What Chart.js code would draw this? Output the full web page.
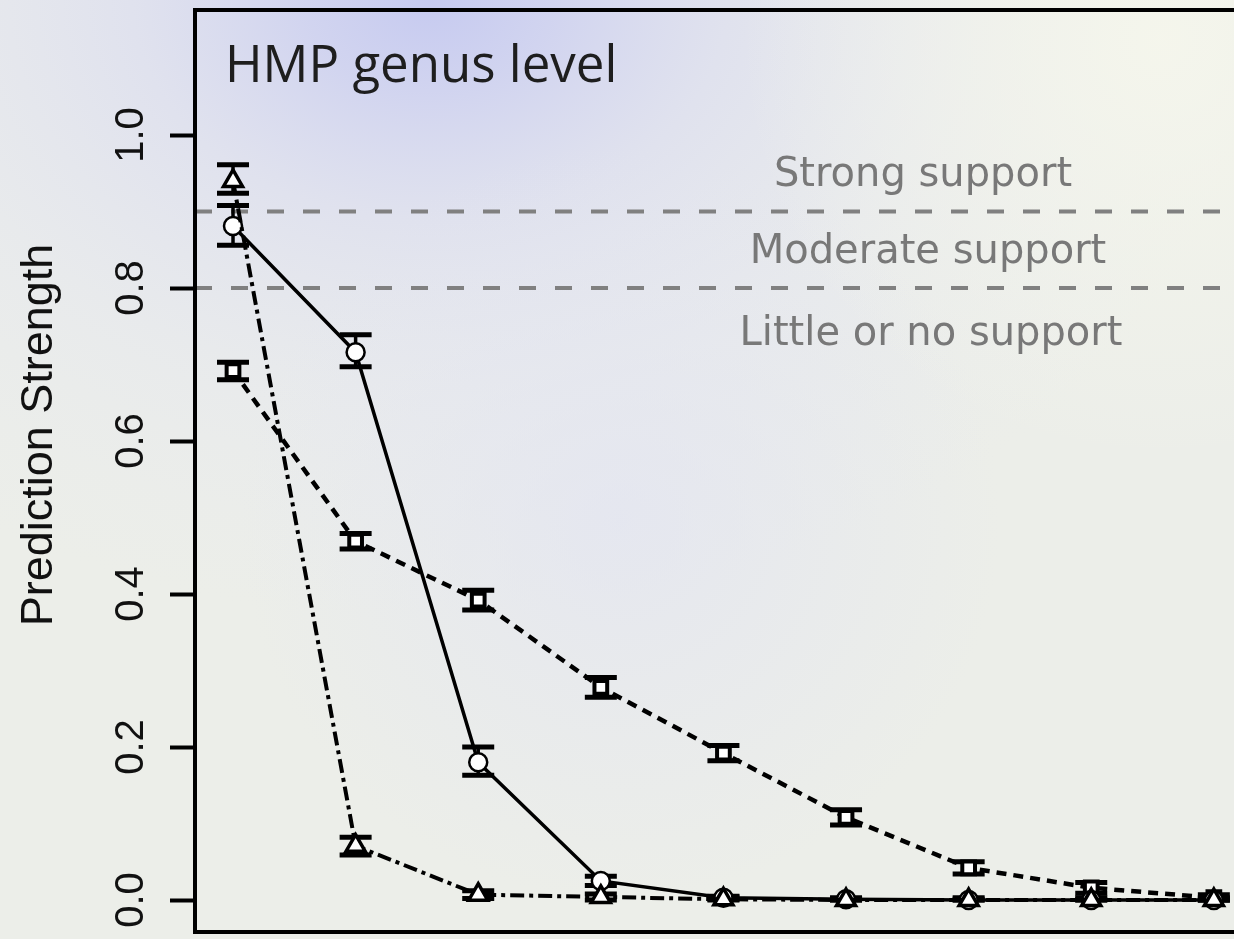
<!DOCTYPE html>
<html>
<head>
<meta charset="utf-8">
<script src="https://cdn.jsdelivr.net/npm/chart.js@4.4.0/dist/chart.umd.min.js"></script>
<style>
  html, body { margin: 0; padding: 0; overflow: hidden; background: #eceee9; }
  #wrap { width: 1250px; height: 939px; }
  canvas { display: block; }
</style>
</head>
<body>
<div id="wrap"><canvas id="chart" width="1250" height="939" style="width:1250px;height:939px"></canvas></div>
<script>
// ---- data ----
const clusterNumbers = [2, 3, 4, 5, 6, 7, 8, 9, 10];

const solidValues = [0.881, 0.716, 0.180, 0.025, 0.003, 0.001, 0.000, 0.000, 0.000];
const solidLower  = [0.856, 0.697, 0.163, 0.019, 0.001, 0.000, 0.000, 0.000, 0.000];
const solidUpper  = [0.908, 0.739, 0.200, 0.031, 0.005, 0.002, 0.001, 0.001, 0.001];

const dashedValues = [0.692, 0.469, 0.392, 0.278, 0.192, 0.108, 0.042, 0.016, 0.003];
const dashedLower  = [0.680, 0.459, 0.379, 0.265, 0.182, 0.098, 0.034, 0.009, 0.000];
const dashedUpper  = [0.703, 0.479, 0.405, 0.291, 0.202, 0.118, 0.050, 0.023, 0.007];

const dotdashValues = [0.940, 0.071, 0.007, 0.004, 0.001, 0.000, 0.000, 0.000, 0.000];
const dotdashLower  = [0.924, 0.059, 0.002, 0.000, 0.000, 0.000, 0.000, 0.000, 0.000];
const dotdashUpper  = [0.961, 0.082, 0.012, 0.008, 0.004, 0.003, 0.003, 0.003, 0.003];

const yTickValues = [0, 0.2, 0.4, 0.6, 0.8, 1.0];
const yTickLabels = ['0.0', '0.2', '0.4', '0.6', '0.8', '1.0'];
const supportThresholds = [0.9, 0.8];
const supportLabels = ['Strong support', 'Moderate support', 'Little or no support'];
const chartTitle = 'HMP genus level';
const yAxisTitle = 'Prediction Strength';

// ---- helpers ----
const toPoints = (vals) => clusterNumbers.map((k, i) => ({ x: k, y: vals[i] }));

const decorPlugin = {
  id: 'decor',
  beforeDraw(chart) {
    const { ctx, width, height } = chart;
    ctx.save();
    ctx.fillStyle = '#eceee9';
    ctx.fillRect(0, 0, width, height);
    // bluish glow near the top centre-left (elliptical)
    ctx.save();
    ctx.translate(430, 0);
    ctx.scale(1.35, 1);
    const g = ctx.createRadialGradient(0, 0, 0, 0, 0, 620);
    g.addColorStop(0, 'rgba(198,202,240,1)');
    g.addColorStop(0.15, 'rgba(207,210,240,0.92)');
    g.addColorStop(0.35, 'rgba(219,221,240,0.72)');
    g.addColorStop(0.65, 'rgba(228,230,240,0.42)');
    g.addColorStop(1, 'rgba(232,234,240,0)');
    ctx.fillStyle = g;
    ctx.fillRect(-600, -10, 1400, 1000);
    ctx.restore();
    // faint lavender haze in the middle
    const g3 = ctx.createRadialGradient(620, 520, 0, 620, 520, 380);
    g3.addColorStop(0, 'rgba(226,228,242,0.7)');
    g3.addColorStop(1, 'rgba(226,228,242,0)');
    ctx.fillStyle = g3;
    ctx.fillRect(0, 0, width, height);
    // warm white at top right
    const g2 = ctx.createRadialGradient(1160, 40, 0, 1160, 40, 420);
    g2.addColorStop(0, 'rgba(245,246,236,0.95)');
    g2.addColorStop(1, 'rgba(245,246,236,0)');
    ctx.fillStyle = g2;
    ctx.fillRect(0, 0, width, height);
    ctx.restore();
  },
  beforeDatasetsDraw(chart) {
    const { ctx, chartArea, scales: { x, y } } = chart;
    ctx.save();
    // threshold lines
    ctx.strokeStyle = '#808080';
    ctx.lineWidth = 4;
    ctx.setLineDash([17, 19]);
    supportThresholds.forEach(v => {
      const py = y.getPixelForValue(v);
      ctx.beginPath();
      ctx.moveTo(chartArea.left, py);
      ctx.lineTo(chartArea.right, py);
      ctx.stroke();
    });
    ctx.setLineDash([]);
    // error bars
    ctx.strokeStyle = '#000';
    chart.data.datasets.forEach(ds => {
      ds.data.forEach((p, i) => {
        const px = x.getPixelForValue(p.x);
        const yl = y.getPixelForValue(ds.errLow[i]);
        const yh = y.getPixelForValue(ds.errHigh[i]);
        ctx.lineWidth = 3.5;
        ctx.beginPath();
        ctx.moveTo(px, yl); ctx.lineTo(px, yh);
        ctx.stroke();
        ctx.lineWidth = 5;
        ctx.beginPath();
        ctx.moveTo(px - 16, yl); ctx.lineTo(px + 16, yl);
        ctx.moveTo(px - 16, yh); ctx.lineTo(px + 16, yh);
        ctx.stroke();
      });
    });
    ctx.restore();
  },
  afterDraw(chart) {
    const { ctx, chartArea, scales: { y } } = chart;
    ctx.save();
    // frame
    ctx.strokeStyle = '#000';
    ctx.lineWidth = 4;
    ctx.strokeRect(chartArea.left, chartArea.top, chartArea.right - chartArea.left, chartArea.bottom - chartArea.top);
    // title
    ctx.fillStyle = '#1e1e1e';
    ctx.font = '51px "Open Sans"';
    ctx.textAlign = 'left';
    ctx.textBaseline = 'alphabetic';
    ctx.fillText(chartTitle, 225, 82);
    // support labels
    ctx.fillStyle = '#787878';
    ctx.font = '40px "DejaVu Sans"';
    ctx.textAlign = 'center';
    const labelPos = [[923, 186], [928, 263], [931, 345]];
    supportLabels.forEach((t, i) => ctx.fillText(t, labelPos[i][0], labelPos[i][1]));
    // y tick labels (rotated)
    ctx.fillStyle = '#111';
    ctx.font = '40px "Liberation Sans"';
    yTickValues.forEach((v, i) => {
      const py = y.getPixelForValue(v);
      ctx.save();
      ctx.translate(143, py);
      ctx.rotate(-Math.PI / 2);
      ctx.textAlign = 'center';
      ctx.fillText(yTickLabels[i], 0, 0);
      ctx.restore();
    });
    // y axis title
    ctx.font = '45px "Liberation Sans"';
    ctx.save();
    ctx.translate(52, 435);
    ctx.rotate(-Math.PI / 2);
    ctx.textAlign = 'center';
    ctx.fillText(yAxisTitle, 0, 0);
    ctx.restore();
    ctx.restore();
  }
};

const common = {
  borderColor: '#000',
  pointBorderColor: '#000',
  pointBackgroundColor: '#fff',
  fill: false,
  tension: 0
};

new Chart(document.getElementById('chart'), {
  type: 'line',
  data: {
    datasets: [
      Object.assign({}, common, {
        label: 'solid',
        order: 1,
        data: toPoints(solidValues),
        errLow: solidLower, errHigh: solidUpper,
        borderWidth: 3.5,
        pointStyle: 'circle', pointRadius: 9, pointBorderWidth: 2.5
      }),
      Object.assign({}, common, {
        label: 'dashed',
        order: 2,
        data: toPoints(dashedValues),
        errLow: dashedLower, errHigh: dashedUpper,
        borderWidth: 4.5, borderDash: [10, 7],
        pointStyle: 'rect', pointRadius: 9, pointBorderWidth: 4
      }),
      Object.assign({}, common, {
        label: 'dotdash',
        order: 0,
        data: toPoints(dotdashValues),
        errLow: dotdashLower, errHigh: dotdashUpper,
        borderWidth: 4, borderDash: [14, 5, 4, 5],
        pointStyle: 'triangle', pointRadius: 11, pointBorderWidth: 3.5
      })
    ]
  },
  options: {
    responsive: false,
    animation: false,
    devicePixelRatio: 1,
    layout: { autoPadding: false, padding: { left: 0, top: 10, right: 5, bottom: 7 } },
    plugins: { legend: { display: false }, tooltip: { enabled: false }, title: { display: false } },
    scales: {
      x: { type: 'linear', min: 1.69, max: 10.254, display: false },
      y: {
        type: 'linear',
        min: -0.0418, max: 1.1634,
        afterBuildTicks: s => { s.ticks = yTickValues.map(v => ({ value: v })); },
        afterFit: s => { s.width = 195; },
        ticks: { display: false },
        grid: { display: true, drawOnChartArea: false, drawTicks: true, tickLength: 25, tickWidth: 4, tickColor: '#000', color: '#000' },
        border: { display: false }
      }
    }
  },
  plugins: [decorPlugin]
});
</script>
</body>
</html>
